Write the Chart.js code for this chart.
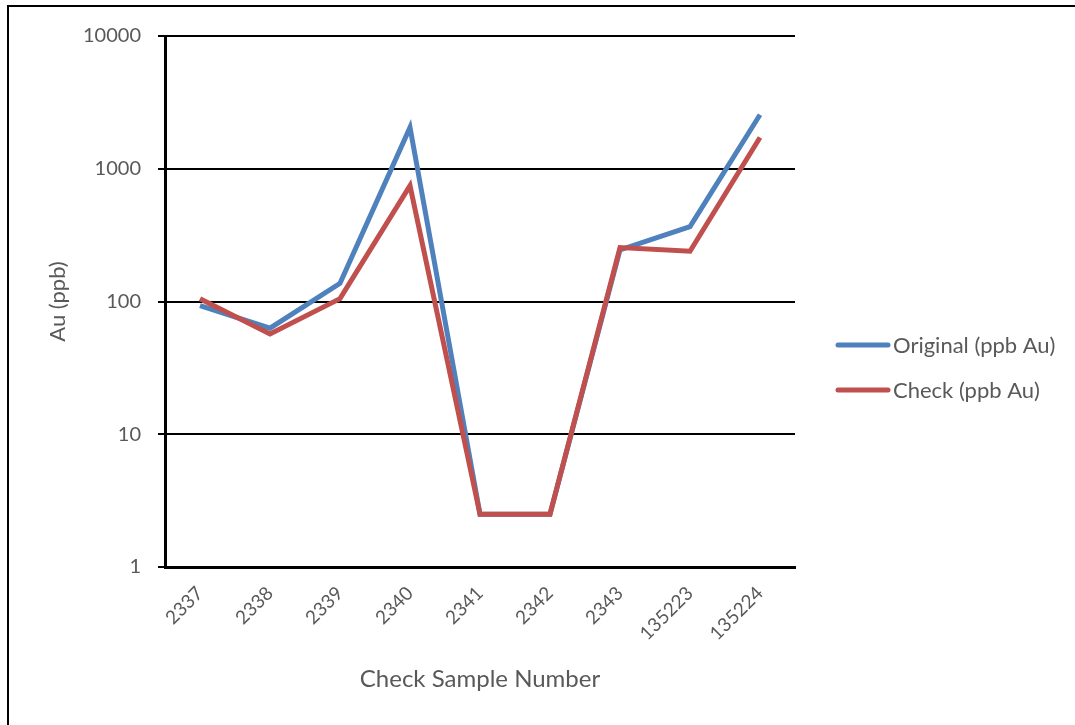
<!DOCTYPE html>
<html>
<head>
<meta charset="utf-8">
<script src="https://cdn.jsdelivr.net/npm/chart.js@4"></script>
<style>
  html, body { margin: 0; padding: 0; background: #fff; }
  #wrap { position: relative; width: 1075px; height: 725px; overflow: hidden; }
  #frame {
    position: absolute; left: 7px; top: 5px; width: 1075px; height: 760px;
    border: 2px solid #000; box-sizing: border-box; pointer-events: none;
  }
</style>
</head>
<body>
<div id="wrap">
  <canvas id="auChart" width="1075" height="725"></canvas>
  <div id="frame"></div>
</div>
<script>
  const sampleIds = ["2337", "2338", "2339", "2340", "2341", "2342", "2343", "135223", "135224"];
  const originalAu = [93, 63, 137, 2050, 2.5, 2.5, 245, 366, 2550];
  const checkAu = [105, 57, 105, 745, 2.5, 2.5, 255, 239, 1720];
  const yTicks = [1, 10, 100, 1000, 10000];

  const TEXT = "#595959";
  const FONT = "Lato, 'Liberation Sans', sans-serif";

  // legend drawn by hand so the line samples sit where Excel puts them
  const sideLegend = {
    id: "sideLegend",
    afterDraw(chart) {
      const ctx = chart.ctx;
      ctx.save();
      ctx.font = `22px ${FONT}`;
      ctx.textBaseline = "middle";
      ctx.lineCap = "round";
      ctx.lineWidth = 5;
      chart.data.datasets.forEach((ds, i) => {
        const y = 345 + i * 45;
        ctx.strokeStyle = ds.borderColor;
        ctx.beginPath();
        ctx.moveTo(838, y);
        ctx.lineTo(888, y);
        ctx.stroke();
        ctx.fillStyle = TEXT;
        ctx.fillText(ds.label, 893, y + 1);
      });
      ctx.restore();
    },
  };

  new Chart(document.getElementById("auChart"), {
    type: "line",
    data: {
      labels: sampleIds,
      datasets: [
        {
          label: "Original (ppb Au)",
          data: originalAu,
          borderColor: "#4F81BD",
          backgroundColor: "#4F81BD",
          borderWidth: 5,
          pointRadius: 0,
          order: 2,
        },
        {
          label: "Check (ppb Au)",
          data: checkAu,
          borderColor: "#C0504D",
          backgroundColor: "#C0504D",
          borderWidth: 5,
          pointRadius: 0,
          order: 1,
        },
      ],
    },
    options: {
      responsive: false,
      animation: false,
      layout: { padding: { top: 36, right: 280, bottom: 0, left: 0 } },
      plugins: {
        legend: { display: false },
        tooltip: { enabled: false },
      },
      scales: {
        x: {
          offset: true,
          grid: { display: false },
          border: { display: true, color: "#000", width: 3 },
          ticks: {
            color: TEXT,
            font: { family: FONT, size: 19 },
            minRotation: 45,
            maxRotation: 45,
            padding: 7,
          },
          title: {
            display: true,
            text: "Check Sample Number",
            color: TEXT,
            font: { family: FONT, size: 24 },
            padding: { top: 0, bottom: 31 },
          },
          afterFit: (scale) => { scale.height = 158; },
        },
        y: {
          type: "logarithmic",
          min: 1,
          max: 10000,
          afterBuildTicks: (scale) => {
            scale.ticks = yTicks.map((v) => ({ value: v }));
          },
          ticks: {
            color: TEXT,
            font: { family: FONT, size: 20 },
            padding: 17,
            callback: (value) => String(value),
          },
          grid: {
            color: "#000",
            lineWidth: 2,
            drawTicks: true,
            tickLength: 7,
            tickColor: "#000",
          },
          border: { display: true, color: "#000", width: 3 },
          title: {
            display: true,
            text: "Au (ppb)",
            color: TEXT,
            font: { family: FONT, size: 22 },
            padding: { top: 45, bottom: 0 },
          },
          afterFit: (scale) => { scale.width = 165; },
        },
      },
    },
    plugins: [sideLegend],
  });
</script>
</body>
</html>
